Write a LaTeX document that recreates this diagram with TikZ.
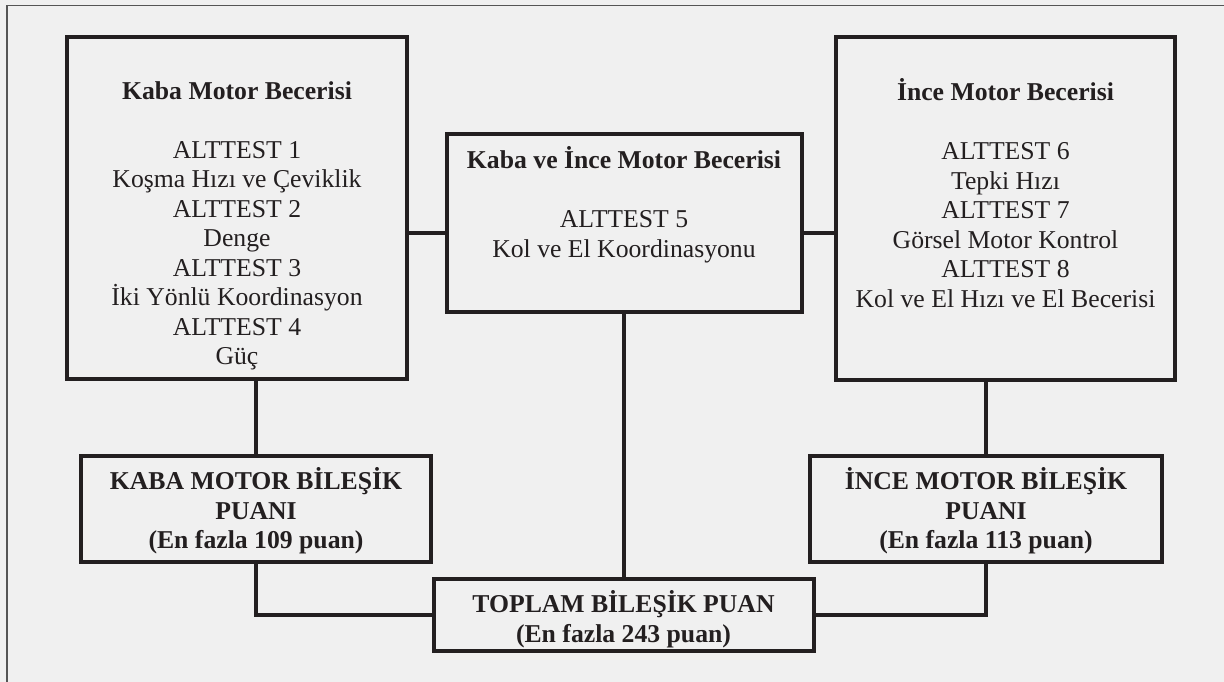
\documentclass[tikz,border=0pt]{standalone}
\usepackage{fontspec}
\setmainfont{Liberation Serif}
\definecolor{bg}{HTML}{F0F0F0}
\definecolor{ink}{HTML}{231F20}
\definecolor{frame}{HTML}{555555}
\begin{document}
\begin{tikzpicture}[x=1pt,y=-1pt,
  box/.style={draw=ink, line width=4pt, fill=bg, rectangle, inner sep=0pt},
  wire/.style={draw=ink, line width=4pt},
  txt/.style={anchor=north, inner sep=0pt, align=center, text=ink,
    font=\fontsize{25.7}{29.5}\selectfont},
  btxt/.style={txt, font=\fontsize{25.7}{29.5}\selectfont\bfseries}]
\useasboundingbox (0,0) rectangle (1224,682);
\fill[bg] (0,0) rectangle (1224,682);
\draw[frame, line width=1.4pt] (7,682) -- (7,5.5) -- (1224,5.5);

% boxes
\node[box, minimum width=340pt, minimum height=342pt] (KB) at (237,208) {};
\node[box, minimum width=355pt, minimum height=178pt] (CB) at (624.5,223) {};
\node[box, minimum width=339pt, minimum height=343pt] (IB) at (1005.5,208.5) {};
\node[box, minimum width=350pt, minimum height=106pt] (KBP) at (256,509) {};
\node[box, minimum width=352pt, minimum height=106pt] (IBP) at (986,509) {};
\node[box, minimum width=380pt, minimum height=72pt] (TP) at (623.5,615) {};

% texts
\node[txt] (KBt) at (237,78.4) {\strut\textbf{Kaba Motor Becerisi}\\[29.5pt]
  ALTTEST 1\\Koşma Hızı ve Çeviklik\\ALTTEST 2\\Denge\\ALTTEST 3\\İki Yönlü Koordinasyon\\ALTTEST 4\\Güç};
\node[txt] (IBt) at (1005.5,78.4) {\strut\textbf{İnce Motor Becerisi}\\[29.5pt]
  ALTTEST 6\\Tepki Hızı\\ALTTEST 7\\Görsel Motor Kontrol\\ALTTEST 8\\Kol ve El Hızı ve El Becerisi};
\node[txt] (CBt) at (624,146.4) {\strut\textbf{Kaba ve İnce Motor Becerisi}\\[29.5pt]
  ALTTEST 5\\Kol ve El Koordinasyonu};
\node[btxt] (KBPt) at (256,467.4) {\strut KABA MOTOR BİLEŞİK\\PUANI\\(En fazla 109 puan)};
\node[btxt] (IBPt) at (986,467.4) {\strut İNCE MOTOR BİLEŞİK\\PUANI\\(En fazla 113 puan)};
\node[btxt] (TPt) at (623.5,590.4) {\strut TOPLAM BİLEŞİK PUAN\\(En fazla 243 puan)};

% connectors
\coordinate (hl) at (0,233);
\draw[wire] (KB.east |- hl) -- (CB.west |- hl);
\draw[wire] (CB.east |- hl) -- (IB.west |- hl);
\draw[wire] (KBP.north |- KB.south) -- (KBP.north);
\draw[wire] (IBP.north |- IB.south) -- (IBP.north);
\draw[wire] (CB.south -| TP.north) -- (TP.north);
\draw[wire] (KBP.south) |- (TP.west);
\draw[wire] (IBP.south) |- (TP.east);
\end{tikzpicture}
\end{document}
